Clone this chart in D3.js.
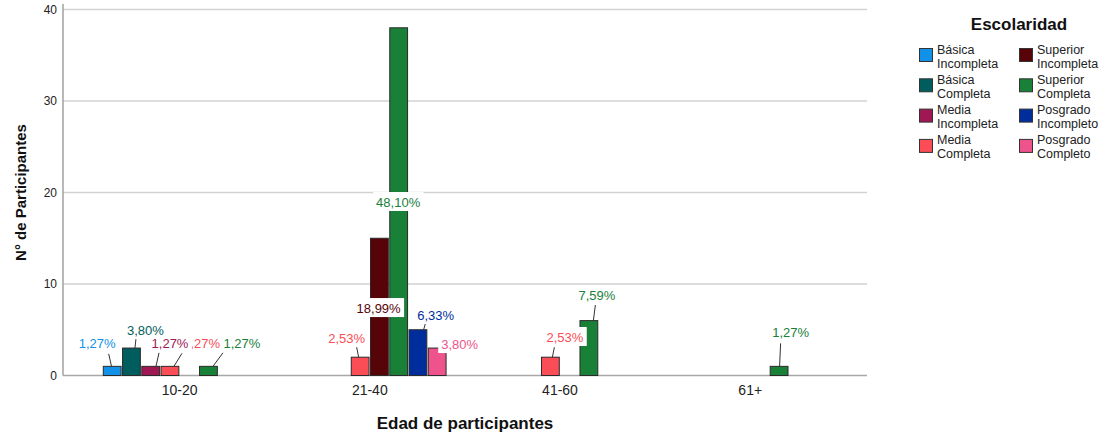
<!DOCTYPE html>
<html>
<head>
<meta charset="utf-8">
<script src="https://cdn.jsdelivr.net/npm/d3@7"></script>
<style>
  body { margin: 0; background: #fff; }
  text { font-family: "Liberation Sans", Arial, sans-serif; }
</style>
</head>
<body>
<svg id="chart" width="1115" height="435"></svg>
<script>
// ---- data ----
const ageGroups = ["10-20", "21-40", "41-60", "61+"];
const levels = [
  "Básica Incompleta", "Básica Completa", "Media Incompleta", "Media Completa",
  "Superior Incompleta", "Superior Completa", "Posgrado Incompleto", "Posgrado Completo"
];
const levelColors = ["#1192e8", "#005d5d", "#9f1853", "#fa4d56", "#570408", "#198038", "#002d9c", "#ee538b"];

// participants per age group, one array per schooling level
const basicaIncompleta   = [1, 0, 0, 0];
const basicaCompleta     = [3, 0, 0, 0];
const mediaIncompleta    = [1, 0, 0, 0];
const mediaCompleta      = [1, 2, 2, 0];
const superiorIncompleta = [0, 15, 0, 0];
const superiorCompleta   = [1, 38, 6, 1];
const posgradoIncompleto = [0, 5, 0, 0];
const posgradoCompleto   = [0, 3, 0, 0];
const countsByLevel = [basicaIncompleta, basicaCompleta, mediaIncompleta, mediaCompleta,
  superiorIncompleta, superiorCompleta, posgradoIncompleto, posgradoCompleto];

const yTicks = [0, 10, 20, 30, 40];

// ---- label placement (text centre/baseline offset from the bar's top centre,
//      optional leader line: [startDx, endDx, endDy]) ----
const labelPlacement = {
  "10-20|0": { dx: -15, dy: -18.5, leader: [-0.7, -3.5, -12.5] },
  "10-20|1": { dx: 14,  dy: -13,   leader: [3.5, 4.5, -9] },
  "10-20|2": { dx: 19.3, dy: -18.5, leader: [5.3, 8.3, -13.5] },
  "10-20|3": { dx: 31.6, dy: -18.5, leader: [4, 12, -13] },
  "10-20|5": { dx: 33.5, dy: -18.5, leader: [4.5, 14.5, -13.5] },
  "21-40|3": { dx: -13.5, dy: -14.2, leader: [-1.5, -3.5, -10] },
  "21-40|4": { dx: -0.8, dy: 74.8, leader: null },
  "21-40|5": { dx: -0.5, dy: 179.2, leader: null },
  "21-40|6": { dx: 17.7, dy: -9.8, leader: [5.7, 7.7, -7] },
  "21-40|7": { dx: 22.5, dy: 1, leader: null },
  "41-60|3": { dx: 14.5, dy: -15.2, leader: [2, 4, -10] },
  "41-60|5": { dx: 8, dy: -20.6, leader: [4.5, 6.5, -15.6] },
  "61+|5":   { dx: 11.5, dy: -29.4, leader: [0.5, 1.5, -23] }
};

// ---- layout ----
const plot = { left: 63, right: 867, top: 9.5, bottom: 375.5 };
const svg = d3.select("#chart");

const total = d3.sum(countsByLevel.flat());
const fmtPct = v => (v / total * 100).toFixed(2).replace(".", ",") + "%";

const y = d3.scaleLinear().domain([0, 40]).range([plot.bottom, plot.top]);
const x0 = d3.scaleBand().domain(ageGroups).range([103.3, 826.5]).paddingInner(0.198).paddingOuter(0);
const x1 = d3.scaleBand().domain(d3.range(levels.length)).range([0, x0.bandwidth()]).paddingInner(0.075).paddingOuter(0);

// gridlines
svg.append("g").selectAll("line")
  .data(yTicks.filter(t => t > 0))
  .join("line")
  .attr("x1", plot.left).attr("x2", plot.right)
  .attr("y1", d => y(d)).attr("y2", d => y(d))
  .attr("stroke", "#d2d2d2").attr("stroke-width", 1.5);

// y axis
const yAxis = svg.append("g")
  .attr("transform", `translate(${plot.left},0)`)
  .call(d3.axisLeft(y).tickValues(yTicks).tickSize(0).tickPadding(6));
yAxis.select(".domain").remove();
yAxis.selectAll("text").attr("font-size", 12).attr("fill", "#222")
  .style("font-family", "'Liberation Sans', Arial, sans-serif");
svg.append("line")
  .attr("x1", plot.left).attr("x2", plot.left)
  .attr("y1", 4).attr("y2", plot.bottom)
  .attr("stroke", "#a0a0a0").attr("stroke-width", 1.5);

// x axis
const xAxis = svg.append("g")
  .attr("transform", `translate(0,${plot.bottom})`)
  .call(d3.axisBottom(x0).tickSize(0).tickPadding(10));
xAxis.select(".domain").remove();
xAxis.selectAll("text").attr("font-size", 14).attr("fill", "#222")
  .style("font-family", "'Liberation Sans', Arial, sans-serif");
svg.append("line")
  .attr("x1", plot.left).attr("x2", plot.right)
  .attr("y1", plot.bottom).attr("y2", plot.bottom)
  .attr("stroke", "#a8a8a8").attr("stroke-width", 1.5);

// bars (empty cells are not drawn)
const cells = [];
ageGroups.forEach((age, ai) => {
  countsByLevel.forEach((arr, li) => {
    if (arr[ai] > 0) cells.push({ age, li, value: arr[ai] });
  });
});

svg.append("g").selectAll("rect")
  .data(cells)
  .join("rect")
  .attr("x", d => x0(d.age) + x1(d.li))
  .attr("y", d => y(d.value))
  .attr("width", x1.bandwidth())
  .attr("height", d => y(0) - y(d.value))
  .attr("fill", d => levelColors[d.li])
  .attr("stroke", "#2a2a2a").attr("stroke-width", 1);

// value labels with leader lines, drawn last-series-first within each group
const labelCells = [];
ageGroups.forEach(age => {
  cells.filter(c => c.age === age).slice().reverse().forEach(c => labelCells.push(c));
});

const labels = svg.append("g");
labelCells.forEach(d => {
  const p = labelPlacement[`${d.age}|${d.li}`];
  const cx = x0(d.age) + x1(d.li) + x1.bandwidth() / 2;
  const top = y(d.value);
  if (p.leader) {
    labels.append("line")
      .attr("x1", cx + p.leader[0]).attr("y1", top)
      .attr("x2", cx + p.leader[1]).attr("y2", top + p.leader[2])
      .attr("stroke", "#333").attr("stroke-width", 1);
  }
  const g = labels.append("g");
  const bg = g.append("rect").attr("fill", "#fff");
  const t = g.append("text")
    .attr("x", cx + p.dx).attr("y", top + p.dy)
    .attr("text-anchor", "middle")
    .attr("font-size", 13)
    .attr("fill", levelColors[d.li])
    .text(fmtPct(d.value));
  const bb = t.node().getBBox();
  bg.attr("x", bb.x - 3).attr("y", top + p.dy - 15)
    .attr("width", bb.width + 6).attr("height", 19);
});

// axis titles
svg.append("text")
  .attr("x", (plot.left + plot.right) / 2).attr("y", 429)
  .attr("text-anchor", "middle")
  .attr("font-size", 17).attr("font-weight", "bold").attr("fill", "#111")
  .text("Edad de participantes");

svg.append("text")
  .attr("transform", `translate(26,${(plot.top + plot.bottom) / 2}) rotate(-90)`)
  .attr("text-anchor", "middle")
  .attr("font-size", 15).attr("font-weight", "bold").attr("fill", "#111")
  .text("N° de Participantes");

// legend
const legend = svg.append("g");
legend.append("text")
  .attr("x", 1019).attr("y", 30)
  .attr("text-anchor", "middle")
  .attr("font-size", 17).attr("font-weight", "bold").attr("fill", "#111")
  .text("Escolaridad");

levels.forEach((name, i) => {
  const col = Math.floor(i / 4), row = i % 4;
  const sx = 919.5 + col * 100, sy = 48.5 + row * 30.3;
  legend.append("rect")
    .attr("x", sx).attr("y", sy).attr("width", 13).attr("height", 13)
    .attr("fill", levelColors[i]).attr("stroke", "#333").attr("stroke-width", 1);
  name.split(" ").forEach((w, k) => {
    legend.append("text")
      .attr("x", sx + 17.5).attr("y", sy + 5 + k * 14)
      .attr("font-size", 12.5).attr("fill", "#222")
      .text(w);
  });
});
</script>
</body>
</html>
